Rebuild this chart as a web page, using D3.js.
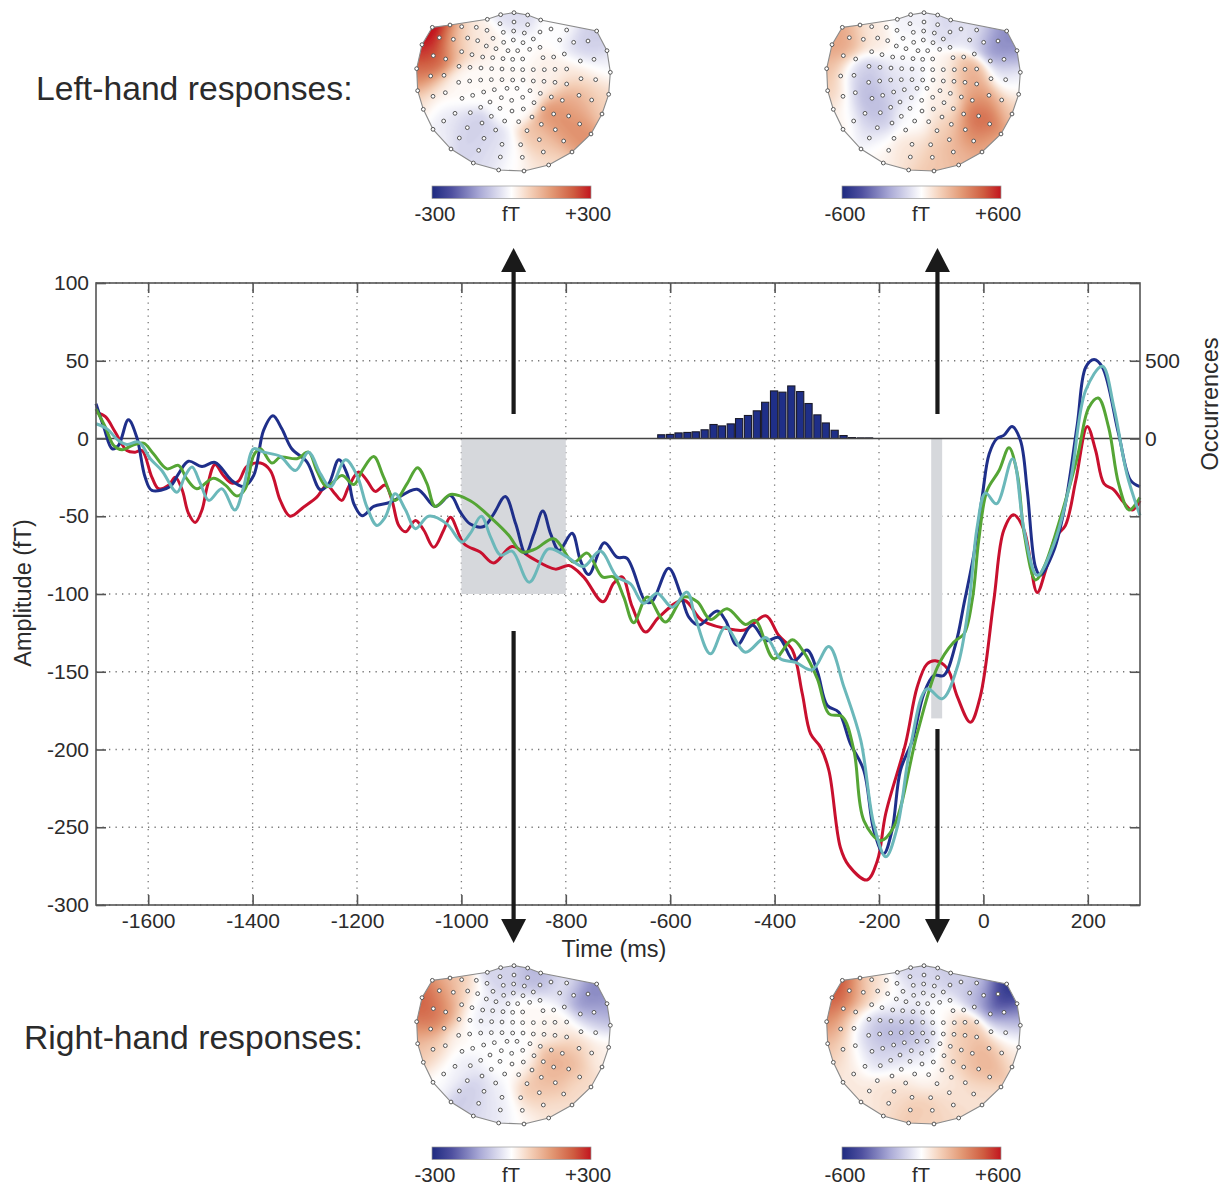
<!DOCTYPE html>
<html>
<head>
<meta charset="utf-8">
<script src="https://cdn.jsdelivr.net/npm/d3@7"></script>
<style>
  body { margin: 0; background: #fff; }
  text { font-family: 'Liberation Sans', Arial, sans-serif; fill: #2b2b2b; }
</style>
</head>
<body>
<div id="chart"></div>
<script>
// [time ms, amplitude fT]
const navySeries = [[-1700,22.3],[-1685,7.3],[-1669,-6.6],[-1657,-4.5],[-1638,12],[-1622,0.9],[-1606,-24.8],[-1593,-33.4],[-1558,-30.8],[-1542,-22.7],[-1523,-14.6],[-1497,-18],[-1472,-15.4],[-1440,-27],[-1417,-30.8],[-1398,-23.8],[-1379,5.2],[-1361,14.6],[-1344,6.2],[-1325,-6.6],[-1296,-15],[-1270,-33],[-1254,-29],[-1235,-13.7],[-1219,-22.7],[-1206,-42],[-1190,-49.7],[-1168,-43.7],[-1136,-41],[-1085,-32.6],[-1050,-43.7],[-1021,-36.6],[-1002,-47.4],[-983,-55],[-957,-56.6],[-938,-48.4],[-916,-37.3],[-896,-54.9],[-877,-74],[-861,-61.3],[-844,-46.7],[-829,-61.3],[-813,-72],[-788,-60.9],[-772,-78.4],[-756,-87.5],[-726,-67],[-702,-76.3],[-683,-77],[-647,-105],[-635,-105],[-603,-83.4],[-580,-100],[-564,-115],[-545,-120],[-510,-111],[-494,-117],[-472,-133],[-443,-120],[-417,-130],[-392,-128],[-363,-143],[-338,-136],[-318,-150],[-299,-171.7],[-277,-176],[-255,-196],[-229,-213.5],[-210,-252],[-191,-267],[-175,-252],[-159,-213.5],[-136,-194],[-114,-164],[-95,-152.4],[-76,-152.4],[-53,-132],[-37,-106],[-18,-74],[-2,-36.7],[11,-10],[26,0],[39,2],[55,7.7],[71,-1.3],[84,-33.5],[100,-83],[109,-88],[135,-72],[157,-42],[180,9.4],[196,45.8],[212,50.8],[228,45.8],[259,3],[282,-27],[300,-31]];
const redSeries = [[-1700,17],[-1682,14],[-1663,4],[-1641,-7.7],[-1625,-8.8],[-1612,-7.7],[-1593,-24.8],[-1580,-32.3],[-1561,-30],[-1548,-25],[-1535,-33],[-1523,-48],[-1510,-54],[-1497,-46],[-1487,-31],[-1472,-16.7],[-1456,-23.8],[-1440,-28.7],[-1427,-27.4],[-1411,-18],[-1385,-15.8],[-1366,-20.6],[-1347,-39.8],[-1328,-50],[-1302,-44],[-1277,-37.7],[-1258,-30],[-1242,-35.6],[-1229,-39.8],[-1216,-31],[-1197,-21.6],[-1181,-27],[-1165,-34],[-1146,-30],[-1133,-39.8],[-1120,-56],[-1107,-60],[-1088,-52.7],[-1072,-59],[-1053,-70],[-1034,-59],[-1021,-50.6],[-995,-67.7],[-964,-73],[-938,-80],[-903,-69.4],[-868,-76.3],[-820,-84],[-794,-81.7],[-766,-89],[-729,-105],[-708,-93],[-692,-89],[-673,-108],[-647,-124.5],[-622,-115],[-574,-104],[-539,-117],[-478,-123],[-456,-123],[-417,-114],[-392,-126.7],[-366,-136],[-347,-164],[-331,-190],[-312,-198.5],[-296,-213.5],[-274,-263],[-258,-274.6],[-223,-283.9],[-203,-271.4],[-187,-241],[-149,-196],[-127,-160],[-108,-145],[-92,-143],[-69,-148],[-50,-166],[-25,-182.5],[-6,-166],[20,-104],[39,-59],[58,-49],[78,-59],[103,-99],[119,-85],[138,-63.5],[157,-56],[177,-27],[199,7.7],[215,-7.7],[231,-29],[250,-33],[266,-40],[285,-46],[300,-40]];
const greenSeries = [[-1700,19],[-1682,7.3],[-1666,-4.5],[-1650,-7.3],[-1631,-4.5],[-1609,-3],[-1590,-9.8],[-1564,-19.5],[-1542,-17.3],[-1526,-26],[-1507,-32.3],[-1475,-25.5],[-1452,-30],[-1430,-37],[-1414,-32.3],[-1398,-10.9],[-1385,-6.6],[-1363,-15.8],[-1347,-12],[-1315,-13],[-1293,-8.8],[-1277,-20.6],[-1258,-31],[-1229,-23.8],[-1206,-29.6],[-1190,-20.6],[-1168,-11.6],[-1149,-24.8],[-1127,-39.8],[-1104,-29],[-1084,-18.8],[-1066,-29],[-1050,-43.7],[-1021,-36],[-983,-40],[-938,-52.7],[-909,-62.4],[-884,-73],[-858,-71],[-823,-64.5],[-785,-79.5],[-759,-73.7],[-730,-89],[-708,-89],[-689,-102],[-670,-118.5],[-644,-102],[-609,-118],[-574,-102],[-548,-105],[-523,-116.4],[-491,-109.5],[-456,-119.6],[-437,-117],[-401,-141.7],[-366,-129.5],[-344,-137.4],[-318,-154.6],[-296,-177],[-270,-179],[-248,-200.7],[-229,-245.7],[-197,-258.6],[-172,-250],[-127,-190],[-88,-147],[-57,-131],[-37,-125.6],[-21,-103],[-9,-65.6],[7,-33.5],[30,-20.6],[49,-6],[65,-22.8],[78,-61],[100,-91],[116,-82.8],[148,-50.6],[180,-12],[202,20],[220,26],[240,7],[259,-29],[279,-46],[300,-38]];
const tealSeries = [[-1700,9.5],[-1679,6.2],[-1657,-1.3],[-1641,-3.8],[-1618,-2.3],[-1596,-13],[-1574,-20.6],[-1545,-34.5],[-1529,-23.8],[-1516,-18.4],[-1500,-29],[-1484,-39.8],[-1459,-32.3],[-1434,-46],[-1417,-31],[-1398,-6.6],[-1379,-8.8],[-1347,-11.5],[-1318,-20.6],[-1293,-8.8],[-1270,-22.7],[-1251,-31],[-1222,-13.7],[-1200,-23.8],[-1181,-44],[-1162,-55.9],[-1146,-50.6],[-1127,-35.6],[-1107,-46],[-1088,-58],[-1063,-50],[-1028,-54.9],[-999,-66.6],[-983,-61],[-962,-50],[-944,-63.4],[-925,-75],[-903,-72.4],[-870,-92.4],[-833,-71],[-797,-76.3],[-766,-82.3],[-734,-72.4],[-702,-89],[-676,-93.5],[-651,-106],[-625,-99.5],[-596,-108.5],[-568,-98.8],[-552,-115],[-523,-138.5],[-494,-121.3],[-456,-137.4],[-417,-128],[-389,-141.7],[-360,-144],[-328,-148.8],[-296,-133.8],[-267,-160],[-235,-194],[-210,-248],[-187,-269],[-165,-250],[-140,-198.5],[-108,-161],[-79,-167.4],[-50,-147],[-28,-107],[-12,-57],[4,-35],[25,-42],[56,-13],[78,-59],[103,-88],[135,-68],[167,-27],[196,31],[228,46.5],[250,20],[275,-23],[300,-49.5]];

const histTimes = [-617,-600,-584,-567,-551,-534,-517,-501,-484,-468,-451,-434,-418,-401,-385,-368,-351,-335,-318,-302,-285,-268,-252,-235,-219];
const histCounts = [24,26,36,39,43,56,90,81,94,128,148,178,233,306,298,338,302,225,152,100,53,19,6,4,4];

const xTicks = d3.range(-1600, 201, 200);
const yTicks = d3.range(-300, 101, 50);
const occTicks = [0, 500];

// sensor layout, shared by all four maps, on a 0-690 map grid
const perimeterSensors = [[97,82],[150,75],[262,58],[302,44],[342,38],[383,45],[422,60],[590,93],[621,152],[631,217],[626,283],[606,342],[573,402],[516,456],[446,495],[372,513],[296,510],[220,489],[153,447],[99,388],[70,328],[53,272],[50,206],[66,134]];
const innerSensors = [[185,80],[229,82],[261,91],[300,71],[342,66],[383,74],[420,96],[453,87],[500,90],[118,113],[160,118],[203,114],[233,122],[279,115],[310,97],[341,93],[373,99],[400,117],[479,120],[521,127],[564,123],[311,127],[340,120],[369,128],[420,142],[389,148],[259,138],[288,146],[324,152],[353,152],[100,167],[137,177],[185,155],[216,164],[248,171],[278,173],[309,176],[338,178],[368,177],[429,173],[461,171],[493,162],[541,183],[582,178],[177,199],[210,202],[243,204],[275,206],[306,207],[338,208],[368,209],[400,209],[433,209],[465,208],[500,207],[92,228],[132,226],[176,247],[209,243],[242,240],[274,239],[306,239],[338,240],[369,240],[400,243],[432,244],[465,247],[500,252],[543,236],[587,239],[99,289],[136,278],[186,295],[218,286],[251,276],[283,269],[321,265],[351,265],[390,272],[421,280],[454,291],[487,301],[537,286],[575,300],[270,306],[304,293],[335,301],[368,292],[402,308],[242,322],[300,325],[336,333],[370,327],[430,326],[165,340],[211,338],[274,349],[314,363],[356,365],[396,351],[461,342],[506,348],[131,363],[246,369],[424,373],[539,372],[202,383],[287,390],[381,392],[466,389],[178,414],[252,415],[418,419],[491,423],[236,451],[306,433],[362,434],[430,456],[301,471],[367,472]];

// field readings for each map: [grid x, grid y, fT]
const leftEarly = [[90,100,340],[75,130,330],[65,170,260],[60,230,170],[100,170,210],[160,130,70],[250,120,30],[340,40,-50],[590,120,-70],[560,140,-70],[480,90,0],[530,300,130],[490,370,165],[430,430,90],[130,350,-40],[200,400,-65],[270,460,-50],[340,300,0],[300,220,10],[130,280,20],[190,250,5],[340,150,0],[450,220,20],[540,220,40],[600,280,60],[340,490,0],[420,500,40],[620,200,-15],[60,320,50],[110,400,-15]];
const leftLate = [[75,130,300],[65,200,200],[60,280,150],[100,110,240],[180,100,60],[300,60,-40],[420,70,-100],[560,120,-330],[600,150,-300],[500,100,-60],[590,220,-100],[300,150,0],[140,220,-150],[170,300,-220],[200,340,-170],[250,260,-100],[300,230,-50],[170,400,-120],[100,330,20],[100,400,60],[400,220,30],[480,230,250],[520,300,300],[520,360,500],[490,400,380],[600,330,150],[420,380,130],[400,300,50],[300,350,-10],[300,450,80],[370,490,170],[200,450,40],[540,430,220],[450,460,210],[620,260,10]];
const rightEarly = [[90,130,240],[70,180,230],[60,230,160],[130,110,180],[140,170,170],[150,90,60],[60,290,90],[100,300,60],[190,130,30],[230,200,-20],[250,170,-40],[300,60,-60],[420,70,-100],[560,130,-180],[600,160,-140],[500,100,-30],[580,210,-60],[300,230,-10],[400,180,10],[480,220,20],[540,270,70],[500,330,120],[440,380,110],[400,420,90],[600,300,20],[130,370,-5],[180,340,-30],[210,430,-80],[240,470,-50],[290,430,-20],[300,490,-30],[370,490,10],[440,460,40],[540,400,50],[350,340,0],[300,300,0],[180,250,15]];
const rightLate = [[100,110,560],[70,170,430],[60,230,300],[150,120,150],[60,290,180],[100,300,120],[130,210,60],[570,120,-640],[600,170,-450],[520,130,-240],[500,100,-100],[610,210,-200],[420,70,-150],[300,60,-130],[340,90,-100],[250,130,20],[200,100,100],[180,230,-190],[250,230,-220],[330,240,-200],[260,160,-80],[170,290,-150],[370,160,-10],[240,320,-100],[350,300,-50],[400,200,30],[470,230,180],[540,300,240],[500,340,220],[440,300,130],[420,380,60],[590,240,-10],[610,290,60],[130,320,40],[100,390,70],[250,430,130],[330,460,170],[250,400,60],[430,440,100],[340,380,10],[500,420,90],[180,440,60],[370,500,120]];

const width = 1226;
const height = 1185;
const plot = { left: 96, right: 1140, top: 283, bottom: 905 };

const x = d3.scaleLinear().domain([-1700, 300]).range([plot.left, plot.right]);
const y = d3.scaleLinear().domain([-300, 100]).range([plot.bottom, plot.top]);
const yOcc = d3.scaleLinear().domain([0, 500]).range([y(0), y(50)]);

const svg = d3.select('#chart')
  .append('svg')
  .attr('width', width)
  .attr('height', height)
  .style('display', 'block');

const fieldColor = d3.scaleLinear()
  .domain([-1, -0.75, -0.4, 0, 0.22, 0.5, 0.78, 1])
  .range(['#1e2a80', '#4f50a0', '#a9a9d6', '#ffffff', '#f5d3bd', '#e39a76', '#cf5c40', '#c2151f']);

// dotted grid
svg.append('g')
  .selectAll('line')
  .data(xTicks)
  .join('line')
  .attr('x1', (d) => x(d))
  .attr('x2', (d) => x(d))
  .attr('y1', plot.top)
  .attr('y2', plot.bottom)
  .attr('stroke', '#777')
  .attr('stroke-width', 1.3)
  .attr('stroke-dasharray', '1.3 5.2');

svg.append('g')
  .selectAll('line')
  .data(yTicks.filter((d) => d !== 0))
  .join('line')
  .attr('x1', plot.left)
  .attr('x2', plot.right)
  .attr('y1', (d) => y(d))
  .attr('y2', (d) => y(d))
  .attr('stroke', '#777')
  .attr('stroke-width', 1.3)
  .attr('stroke-dasharray', '1.3 5.2');

// analysis windows
const windows = [[-1000, -800, -100], [-100, -79, -180]];
svg.append('g')
  .selectAll('rect')
  .data(windows)
  .join('rect')
  .attr('x', (d) => x(d[0]))
  .attr('y', y(0))
  .attr('width', (d) => x(d[1]) - x(d[0]))
  .attr('height', (d) => y(d[2]) - y(0))
  .attr('fill', '#d6d8dc');

// histogram
svg.append('g')
  .selectAll('rect')
  .data(histTimes)
  .join('rect')
  .attr('x', (d) => x(d) - 3.6)
  .attr('y', (d, i) => yOcc(histCounts[i]))
  .attr('width', 7.2)
  .attr('height', (d, i) => yOcc(0) - yOcc(histCounts[i]))
  .attr('fill', '#1f2f88')
  .attr('stroke', '#1b1b2a')
  .attr('stroke-width', 1.1);

svg.append('line')
  .attr('x1', plot.left)
  .attr('x2', plot.right)
  .attr('y1', y(0))
  .attr('y2', y(0))
  .attr('stroke', '#444')
  .attr('stroke-width', 1.6);

// traces
const line = d3.line()
  .x((d) => x(d[0]))
  .y((d) => y(d[1]))
  .curve(d3.curveCatmullRom.alpha(0.5));

const traces = [
  { data: redSeries, color: '#c8102e' },
  { data: navySeries, color: '#1f2f8a' },
  { data: greenSeries, color: '#55a535' },
  { data: tealSeries, color: '#6bb8ba' },
];

svg.append('g')
  .selectAll('path')
  .data(traces)
  .join('path')
  .attr('d', (d) => line(d.data))
  .attr('fill', 'none')
  .attr('stroke', (d) => d.color)
  .attr('stroke-width', 3)
  .attr('stroke-linejoin', 'round');

// frame and axes
svg.append('rect')
  .attr('x', plot.left)
  .attr('y', plot.top)
  .attr('width', plot.right - plot.left)
  .attr('height', plot.bottom - plot.top)
  .attr('fill', 'none')
  .attr('stroke', '#555')
  .attr('stroke-width', 1.6);

const styleAxis = (g) => {
  g.select('.domain').remove();
  g.selectAll('line').attr('stroke', '#555').attr('stroke-width', 1.6);
  g.selectAll('text').attr('font-size', '21px').attr('fill', '#2b2b2b');
};

svg.append('g')
  .attr('transform', `translate(0, ${plot.bottom})`)
  .call(d3.axisBottom(x).tickValues(xTicks).tickSize(-10).tickPadding(8).tickFormat(String))
  .call(styleAxis);

svg.append('g')
  .attr('transform', `translate(0, ${plot.top})`)
  .call(d3.axisTop(x).tickValues(xTicks).tickSize(-10).tickFormat(''))
  .call(styleAxis);

svg.append('g')
  .attr('transform', `translate(${plot.left}, 0)`)
  .call(d3.axisLeft(y).tickValues(yTicks).tickSize(-10).tickPadding(7).tickFormat(String))
  .call(styleAxis);

svg.append('g')
  .attr('transform', `translate(${plot.right}, 0)`)
  .call(d3.axisRight(y).tickValues(yTicks).tickSize(-10).tickFormat(''))
  .call(styleAxis);

svg.append('g')
  .attr('transform', `translate(${plot.right}, 0)`)
  .call(d3.axisRight(yOcc).tickValues(occTicks).tickSize(0).tickPadding(5).tickFormat(String))
  .call(styleAxis);

svg.append('text')
  .attr('x', 614)
  .attr('y', 957)
  .attr('text-anchor', 'middle')
  .attr('font-size', '23.5px')
  .text('Time (ms)');

svg.append('text')
  .attr('transform', 'translate(31, 593) rotate(-90)')
  .attr('text-anchor', 'middle')
  .attr('font-size', '23.5px')
  .text('Amplitude (fT)');

svg.append('text')
  .attr('transform', 'translate(1218, 404) rotate(-90)')
  .attr('text-anchor', 'middle')
  .attr('font-size', '23.5px')
  .text('Occurrences');

svg.append('text')
  .attr('x', 36)
  .attr('y', 100)
  .attr('font-size', '33.7px')
  .text('Left-hand responses:');

svg.append('text')
  .attr('x', 24)
  .attr('y', 1049)
  .attr('font-size', '33.7px')
  .text('Right-hand responses:');

// arrows
const arrows = [
  { t: -900, from: 414, tip: 248 },
  { t: -88, from: 414, tip: 248 },
  { t: -900, from: 631, tip: 943 },
  { t: -88, from: 729, tip: 943 },
];
const headLen = 24;
const headHalf = 12.5;
const arrowG = svg.append('g');
arrows.forEach((a) => {
  const px = x(a.t);
  const dir = a.tip < a.from ? 1 : -1;
  arrowG.append('line')
    .attr('x1', px)
    .attr('x2', px)
    .attr('y1', a.from)
    .attr('y2', a.tip + dir * headLen)
    .attr('stroke', '#1a1a1a')
    .attr('stroke-width', 4.2);
  arrowG.append('path')
    .attr('d', `M${px},${a.tip}L${px - headHalf},${a.tip + dir * headLen}L${px + headHalf},${a.tip + dir * headLen}Z`)
    .attr('fill', '#1a1a1a');
});

// field maps
const gridSize = 116;
const gridStep = 6;
const sigma = 38;

const buildField = (readings, maxValue) => {
  const values = new Float64Array(gridSize * gridSize);
  for (let j = 0; j < gridSize; j++) {
    for (let i = 0; i < gridSize; i++) {
      let sum = 0;
      let weight = 0;
      readings.forEach(([rx, ry, v]) => {
        const dx = i * gridStep - rx;
        const dy = j * gridStep - ry;
        const w = Math.exp(-(dx * dx + dy * dy) / (2 * sigma * sigma));
        sum += w * v;
        weight += w;
      });
      values[j * gridSize + i] = weight > 1e-9 ? sum / weight / maxValue : 0;
    }
  }
  return values;
};

const thresholds = d3.range(-1.1, 1.1, 0.02);
const maps = [
  { id: 'map-a', readings: leftEarly, max: 300, left: 400, top: 0, barOffset: 186 },
  { id: 'map-b', readings: leftLate, max: 600, left: 810, top: 0, barOffset: 186 },
  { id: 'map-c', readings: rightEarly, max: 300, left: 400, top: 953, barOffset: 194 },
  { id: 'map-d', readings: rightLate, max: 600, left: 810, top: 953, barOffset: 194 },
];

const defs = svg.append('defs');
const barGradient = defs.append('linearGradient').attr('id', 'bar-gradient');
barGradient.selectAll('stop')
  .data(fieldColor.domain())
  .join('stop')
  .attr('offset', (d) => `${(d + 1) * 50}%`)
  .attr('stop-color', (d) => fieldColor(d));

defs.append('filter')
  .attr('id', 'soften')
  .append('feGaussianBlur')
  .attr('stdDeviation', 0.9);

maps.forEach((m) => {
  const mx = d3.scaleLinear().domain([0, 690]).range([m.left, m.left + 230]);
  const my = d3.scaleLinear().domain([0, 690]).range([m.top, m.top + 230]);

  const outline = d3.line()
    .x((d) => mx(d[0]))
    .y((d) => my(d[1]))
    .curve(d3.curveLinearClosed);

  defs.append('clipPath')
    .attr('id', m.id)
    .append('path')
    .attr('d', outline(perimeterSensors));

  const g = svg.append('g');
  const geo = d3.geoPath(d3.geoTransform({
    point(px, py) {
      this.stream.point(mx((px - 0.5) * gridStep), my((py - 0.5) * gridStep));
    },
  }));

  const bands = d3.contours()
    .size([gridSize, gridSize])
    .thresholds(thresholds)(buildField(m.readings, m.max));

  g.append('g')
    .attr('clip-path', `url(#${m.id})`)
    .append('g')
    .attr('filter', 'url(#soften)')
    .selectAll('path')
    .data(bands)
    .join('path')
    .attr('d', geo)
    .attr('fill', (d) => fieldColor(Math.max(-1, Math.min(1, d.value + 0.01))));

  g.append('path')
    .attr('d', outline(perimeterSensors))
    .attr('fill', 'none')
    .attr('stroke', '#8a8a8a')
    .attr('stroke-width', 1.1);

  g.append('g')
    .selectAll('circle')
    .data(perimeterSensors.concat(innerSensors))
    .join('circle')
    .attr('cx', (d) => mx(d[0]))
    .attr('cy', (d) => my(d[1]))
    .attr('r', 1.9)
    .attr('fill', '#fff')
    .attr('stroke', '#555')
    .attr('stroke-width', 1);

  const barLeft = m.left + 32;
  const barTop = m.top + m.barOffset;

  g.append('rect')
    .attr('x', barLeft)
    .attr('y', barTop)
    .attr('width', 159)
    .attr('height', 12.5)
    .attr('fill', 'url(#bar-gradient)')
    .attr('stroke', '#999')
    .attr('stroke-width', 0.7);

  const barLabels = [
    { text: `-${m.max}`, at: barLeft + 3 },
    { text: 'fT', at: barLeft + 79 },
    { text: `+${m.max}`, at: barLeft + 156 },
  ];
  g.append('g')
    .selectAll('text')
    .data(barLabels)
    .join('text')
    .attr('x', (d) => d.at)
    .attr('y', barTop + 35)
    .attr('text-anchor', 'middle')
    .attr('font-size', '20.5px')
    .text((d) => d.text);
});
</script>
</body>
</html>
